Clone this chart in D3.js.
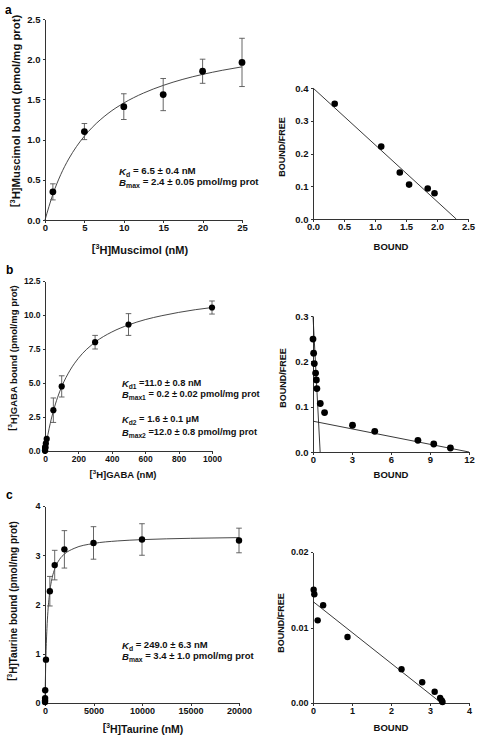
<!DOCTYPE html>
<html><head><meta charset="utf-8">
<script src="https://cdn.jsdelivr.net/npm/d3@7"></script>
<style>
html,body{margin:0;padding:0;background:#fff;}
svg{display:block;font-family:"Liberation Sans",Arial,sans-serif;font-weight:bold;}
.axis path,.axis line{stroke:#333;stroke-width:1;shape-rendering:crispEdges;}
.axis text{fill:#111;font-weight:bold;}
</style></head>
<body>
<script>
// ---------- Panel a ----------
const aConc   = [1, 5, 10, 15, 20, 25];
const aBound  = [0.35, 1.10, 1.41, 1.56, 1.85, 1.96];
const aErr    = [0.10, 0.10, 0.16, 0.20, 0.15, 0.30];
const aCurveX = [0, 1, 2, 3, 4, 5, 6, 8, 10, 12.5, 15, 17.5, 20, 22.5, 25];
const aCurveY = [0, 0.32, 0.565, 0.758, 0.914, 1.043, 1.152, 1.325, 1.455, 1.579, 1.674, 1.750, 1.811, 1.862, 1.905];
const aScX    = [0.35, 1.10, 1.40, 1.55, 1.85, 1.96];
const aScY    = [0.352, 0.221, 0.142, 0.105, 0.093, 0.0786];
const aLineX  = [0, 2.31];
const aLineY  = [0.40, 0];
const aXTicks = [0, 5, 10, 15, 20, 25];
const aYTicks = [0, 0.5, 1.0, 1.5, 2.0, 2.5];
const aSXTicks = [0, 0.5, 1.0, 1.5, 2.0, 2.5];
const aSYTicks = [0, 0.1, 0.2, 0.3, 0.4];

// ---------- Panel b ----------
const bConc   = [0.02, 0.23, 0.51, 1.15, 1.64, 2.14, 5.2, 10.2, 50, 100, 300, 500, 1000];
const bBound  = [0.01, 0.05, 0.10, 0.20, 0.26, 0.30, 0.56, 0.89, 3.00, 4.75, 8.00, 9.30, 10.55];
const bErr    = [0, 0, 0, 0, 0, 0, 0, 0, 0.90, 0.78, 0.50, 0.80, 0.48];
const bCurveX = [0, 10, 25, 50, 75, 100, 150, 200, 300, 400, 500, 600, 700, 800, 900, 1000];
const bCurveY = [0, 0.72, 1.67, 2.93, 3.93, 4.73, 5.94, 6.82, 8.0, 8.75, 9.27, 9.66, 9.95, 10.19, 10.39, 10.55];
const bScX    = [0.0, 0.05, 0.10, 0.20, 0.26, 0.30, 0.56, 0.89, 3.04, 4.75, 8.07, 9.29, 10.57];
const bScY    = [0.249, 0.218, 0.195, 0.174, 0.159, 0.140, 0.107, 0.087, 0.059, 0.0456, 0.0257, 0.0176, 0.0088];
const bLine1X = [0, 0.55];
const bLine1Y = [0.30, 0];
const bLine2X = [0, 12];
const bLine2Y = [0.068, 0];
const bXTicks = [0, 200, 400, 600, 800, 1000];
const bYTicks = [0, 2.5, 5.0, 7.5, 10.0, 12.5];
const bSXTicks = [0, 3, 6, 9, 12];
const bSYTicks = [0, 0.1, 0.2, 0.3];

// ---------- Panel c ----------
const cConc   = [1, 5, 10, 20, 100, 500, 1000, 2000, 5000, 10000, 20000];
const cBound  = [0.02, 0.05, 0.10, 0.26, 0.88, 2.27, 2.80, 3.12, 3.25, 3.32, 3.30];
const cErr    = [0, 0, 0, 0, 0, 0.30, 0.30, 0.38, 0.33, 0.32, 0.25];
const cCurveX = [0, 50, 100, 200, 300, 500, 750, 1000, 1500, 2000, 3000, 5000, 7500, 10000, 15000, 20000];
const cCurveY = [0, 0.567, 0.974, 1.513, 1.858, 2.270, 2.553, 2.722, 2.916, 3.024, 3.139, 3.239, 3.291, 3.317, 3.344, 3.358];
const cScX    = [0.017, 0.034, 0.12, 0.26, 0.885, 2.27, 2.80, 3.12, 3.26, 3.30, 3.32];
const cScY    = [0.0150, 0.0144, 0.01095, 0.01295, 0.00874, 0.00448, 0.00275, 0.0015, 0.00066, 0.00035, 0.00013];
const cLineX  = [0, 3.29];
const cLineY  = [0.01344, 0];
const cXTicks = [0, 5000, 10000, 15000, 20000];
const cYTicks = [0, 1, 2, 3, 4];
const cSXTicks = [0, 1, 2, 3, 4];
const cSYTicks = [0, 0.01, 0.02];

const W = 479, H = 736;
const svg = d3.select("body").append("svg").attr("width", W).attr("height", H);
svg.append("rect").attr("width", W).attr("height", H).attr("fill", "#fff");

function zip(xs, ys){ return xs.map((x,i)=>[x, ys[i]]); }

function panel(o){
  const x = d3.scaleLinear().domain(o.xd).range([o.x0, o.x1]);
  const y = d3.scaleLinear().domain(o.yd).range([o.y0, o.y1]);
  const g = svg.append("g");
  g.append("g").attr("class","axis").attr("transform",`translate(0,${o.y0})`)
    .call(d3.axisBottom(x).tickValues(o.xt).tickSize(2.5).tickPadding(2).tickFormat(d3.format(o.xf)).tickSizeOuter(0))
    .selectAll("text").style("font-size", o.fs + "px");
  g.append("g").attr("class","axis").attr("transform",`translate(${o.x0},0)`)
    .call(d3.axisLeft(y).tickValues(o.yt).tickSize(2.5).tickPadding(2).tickFormat(d3.format(o.yf)).tickSizeOuter(0))
    .selectAll("text").style("font-size", o.fs + "px");
  return {g, x, y};
}

function satPanel(p, conc, bound, err, cx, cy, r){
  const {g, x, y} = p;
  g.append("path").datum(zip(cx, cy))
    .attr("d", d3.line().x(d=>x(d[0])).y(d=>y(d[1])).curve(d3.curveMonotoneX))
    .attr("fill","none").attr("stroke","#333").attr("stroke-width",0.9);
  conc.forEach((c,i)=>{
    if (err[i] > 0){
      const xx = x(c), lo = y(bound[i]-err[i]), hi = y(bound[i]+err[i]);
      g.append("line").attr("x1",xx).attr("x2",xx).attr("y1",lo).attr("y2",hi).attr("stroke","#555").attr("stroke-width",0.9);
      [lo,hi].forEach(v=>g.append("line").attr("x1",xx-2.8).attr("x2",xx+2.8).attr("y1",v).attr("y2",v).attr("stroke","#555").attr("stroke-width",0.9));
    }
  });
  g.selectAll("circle.pt").data(zip(conc, bound)).enter().append("circle")
    .attr("cx",d=>x(d[0])).attr("cy",d=>y(d[1])).attr("r",r).attr("fill","#000");
}

function scPanel(p, sx, sy, lines, r){
  const {g, x, y} = p;
  lines.forEach(([lx,ly])=>{
    g.append("path").datum(zip(lx,ly)).attr("d", d3.line().x(d=>x(d[0])).y(d=>y(d[1])))
      .attr("fill","none").attr("stroke","#222").attr("stroke-width",0.9);
  });
  g.selectAll("circle.pt").data(zip(sx, sy)).enter().append("circle")
    .attr("cx",d=>x(d[0])).attr("cy",d=>y(d[1])).attr("r",r).attr("fill","#000");
}

function label3H(sel, name){
  sel.append("tspan").text("[");
  sel.append("tspan").text("3").attr("font-size","0.65em").attr("dy","-0.45em");
  sel.append("tspan").text("H]" + name).attr("dy","0.45em");
}

function yTitle(cx, cy, fs, name){
  const t = svg.append("text").attr("transform",`translate(${cx},${cy}) rotate(-90)`)
    .attr("text-anchor","middle").attr("font-size",fs).attr("fill","#111");
  label3H(t, name);
}
function xTitle(cx, by, fs, name){
  const t = svg.append("text").attr("x",cx).attr("y",by).attr("text-anchor","middle").attr("font-size",fs).attr("fill","#111");
  label3H(t, name);
}
function plain(x, y, fs, s, rot){
  const t = svg.append("text").attr("text-anchor","middle").attr("font-size",fs).attr("fill","#111").text(s);
  if (rot) t.attr("transform",`translate(${x},${y}) rotate(-90)`); else t.attr("x",x).attr("y",y);
}
function param(x, y, fs, sym, sub, rest){
  const t = svg.append("text").attr("x",x).attr("y",y).attr("font-size",fs).attr("fill","#111");
  t.append("tspan").text(sym).attr("font-style","italic");
  t.append("tspan").text(sub).attr("font-size","0.72em").attr("dy","0.3em");
  t.append("tspan").text(rest).attr("dy","-0.3em");
}

// Panel a
const pa = panel({xd:[0,25], yd:[0,2.5], x0:45, x1:242, y0:220, y1:19, xt:aXTicks, yt:aYTicks, xf:"d", yf:".1f", fs:9.5});
satPanel(pa, aConc, aBound, aErr, aCurveX, aCurveY, 3.4);
const psa = panel({xd:[0,2.5], yd:[0,0.4], x0:313, x1:468, y0:219, y1:88, xt:aSXTicks, yt:aSYTicks, xf:".1f", yf:".1f", fs:9.5});
scPanel(psa, aScX, aScY, [[aLineX, aLineY]], 3.3);

// Panel b
const pb = panel({xd:[0,1000], yd:[0,12.5], x0:45, x1:212, y0:451, y1:281, xt:bXTicks, yt:bYTicks, xf:"d", yf:".1f", fs:8.5});
satPanel(pb, bConc, bBound, bErr, bCurveX, bCurveY, 3.1);
const psb = panel({xd:[0,12], yd:[0,0.3], x0:313, x1:469, y0:452, y1:316, xt:bSXTicks, yt:bSYTicks, xf:"d", yf:".1f", fs:9.5});
scPanel(psb, bScX, bScY, [[bLine1X, bLine1Y],[bLine2X, bLine2Y]], 3.4);

// Panel c
const pc = panel({xd:[0,20000], yd:[0,4], x0:45, x1:239, y0:703, y1:506, xt:cXTicks, yt:cYTicks, xf:"d", yf:"d", fs:9});
satPanel(pc, cConc, cBound, cErr, cCurveX, cCurveY, 3.2);
const psc = panel({xd:[0,4], yd:[0,0.02], x0:313, x1:469, y0:703, y1:552, xt:cSXTicks, yt:cSYTicks, xf:"d", yf:".2f", fs:9});
scPanel(psc, cScX, cScY, [[cLineX, cLineY]], 3.2);

// Titles
yTitle(18, 111, 11.3, "Muscimol bound (pmol/mg prot)");
xTitle(140, 252, 11, "Muscimol (nM)");
yTitle(15, 358, 9.5, "GABA bound (pmol/mg prot)");
xTitle(123, 477, 9.5, "GABA (nM)");
yTitle(15, 601, 10, "Taurine bound (pmol/mg prot)");
xTitle(143, 731, 10.5, "Taurine (nM)");

plain(285, 147, 9, "BOUND/FREE", true);
plain(391, 250, 9.5, "BOUND");
plain(286, 378, 9, "BOUND/FREE", true);
plain(391, 477.5, 9.5, "BOUND");
plain(284, 623, 9, "BOUND/FREE", true);
plain(391, 731, 9.5, "BOUND");

// Panel letters
svg.append("text").attr("x",5).attr("y",14).attr("font-size",12).attr("fill","#000").text("a");
svg.append("text").attr("x",6).attr("y",274).attr("font-size",12).attr("fill","#000").text("b");
svg.append("text").attr("x",6).attr("y",499).attr("font-size",12).attr("fill","#000").text("c");

// Parameter annotations
param(119, 175, 9.7, "K", "d", " = 6.5 ± 0.4 nM");
param(119, 186, 9.7, "B", "max", " = 2.4 ± 0.05 pmol/mg prot");
param(122, 387, 9.3, "K", "d1", " =11.0 ± 0.8 nM");
param(122, 397.5, 9.3, "B", "max1", " = 0.2 ± 0.02 pmol/mg prot");
param(122, 423, 9.3, "K", "d2", " = 1.6 ± 0.1 µM");
param(122, 435.5, 9.3, "B", "max2", " =12.0 ± 0.8 pmol/mg prot");
param(122, 649, 9.5, "K", "d", " = 249.0 ± 6.3 nM");
param(122, 660, 9.5, "B", "max", " = 3.4 ± 1.0 pmol/mg prot");
</script>
</body></html>
